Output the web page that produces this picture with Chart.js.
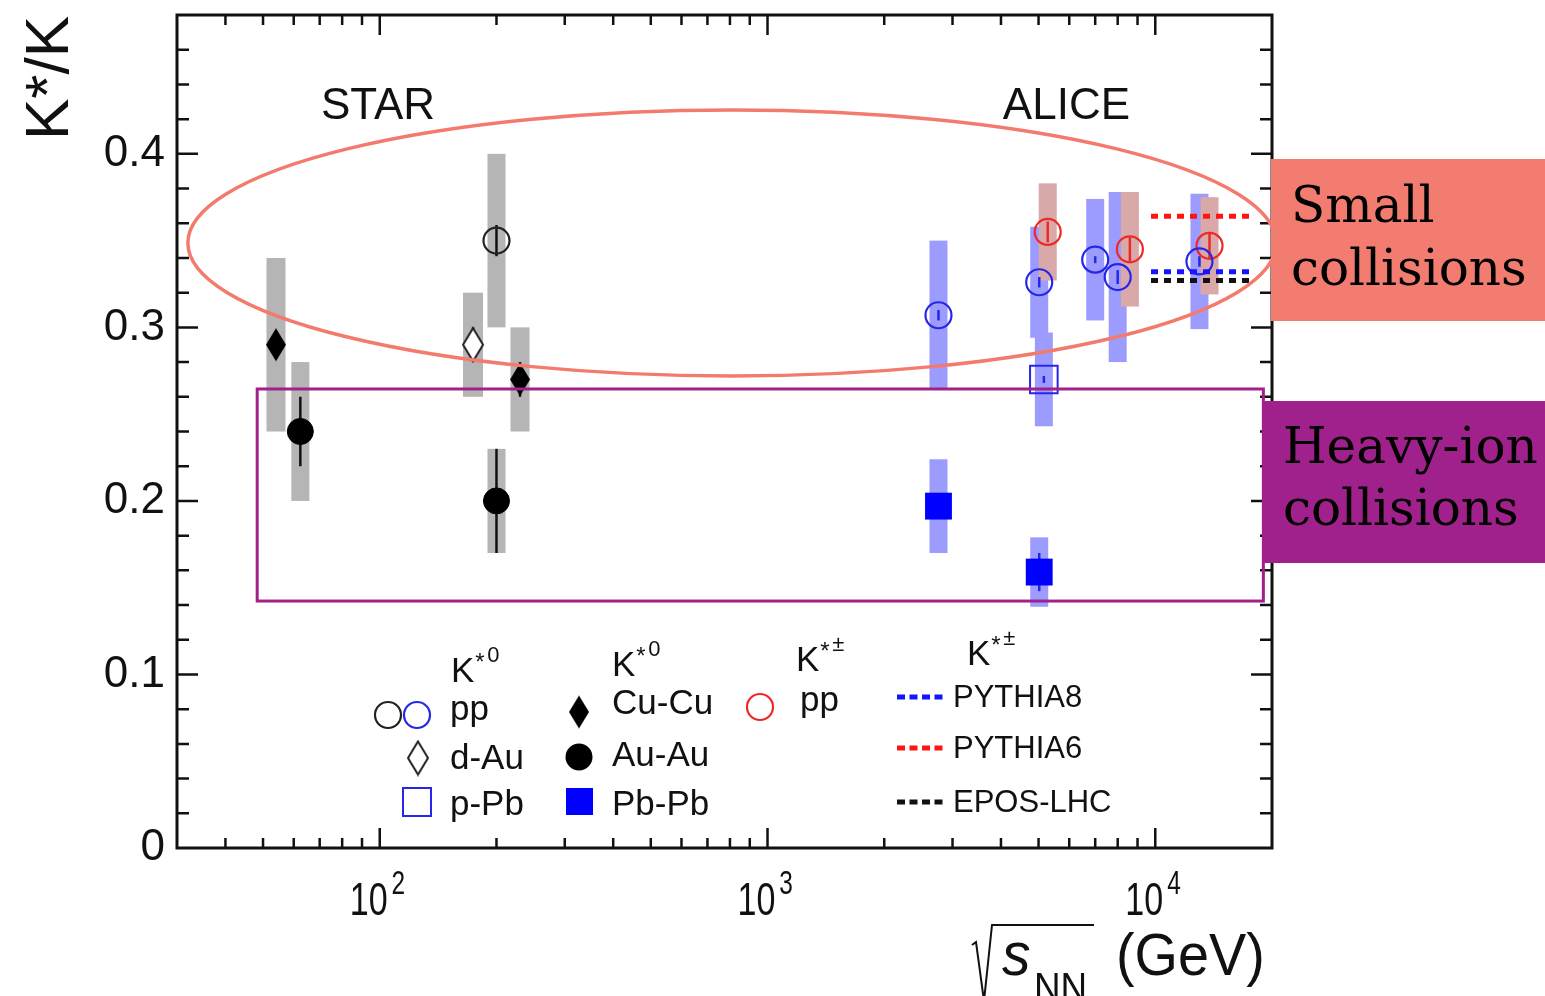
<!DOCTYPE html>
<html lang="en">
<head>
<meta charset="utf-8">
<title>K*/K vs collision energy</title>
<script src="https://cdn.jsdelivr.net/npm/chart.js@4.4.1/dist/chart.umd.min.js"></script>
<style>
  html, body { margin: 0; padding: 0; background: #ffffff; }
  canvas { display: block; }
</style>
</head>
<body>
<canvas id="ratioChart" width="1545" height="996"></canvas>
<script>
// Helper: Get element by ID
const getEl = (id) => document.getElementById(id);

// Rows are [sqrt(s_NN) in GeV, K*/K, stat. error, syst. error]
// (a few energies are nudged so that points at the same energy stay readable)
const starPP    = [[200, 0.350, 0.009, 0.050]];
const starDAu   = [[174, 0.290, 0.010, 0.030]];
const starCuCu  = [[54, 0.290, 0.008, 0.050], [230, 0.270, 0.010, 0.030]];
const starAuAu  = [[62.4, 0.240, 0.020, 0.040], [200, 0.200, 0.030, 0.030]];
const alicePP   = [[2760, 0.307, 0.003, 0.043], [5020, 0.326, 0.003, 0.032], [7000, 0.339, 0.002, 0.035], [8000, 0.329, 0.004, 0.049], [13000, 0.338, 0.003, 0.039]];
const alicePPb  = [[5160, 0.270, 0.002, 0.027]];
const alicePbPb = [[2760, 0.197, 0.005, 0.027], [5020, 0.159, 0.011, 0.020]];
const chargedPP = [[5280, 0.355, 0.006, 0.028], [8600, 0.345, 0.007, 0.033], [13800, 0.347, 0.008, 0.028]];

// pp 13 TeV model values, drawn as short dotted lines
const modelSpan   = [9750, 17600];
const modelNames  = ['PYTHIA8', 'PYTHIA6', 'EPOS-LHC'];
const modelValues = [0.332, 0.364, 0.327];
const modelColors = ['#1414ff', '#ff1414', '#111111'];

// axis ticks
const yTicks     = [0, 0.1, 0.2, 0.3, 0.4];
const xDecades   = [100, 1000, 10000];
const xExponents = ['2', '3', '4'];

// experiment labels and their energies, all at one ratio height
const expNames    = ['STAR', 'ALICE'];
const expEnergies = [99, 5900];
const expRatio    = 0.42;

// highlighted regions (energy range, ratio range)
const smallEnergy = [32, 20500];
const smallRatio  = [0.272, 0.4253];
const heavyEnergy = [48.3, 19000];
const heavyRatio  = [0.1423, 0.2645];

const SANS  = '"Liberation Sans", Arial, sans-serif';
const SERIF = '"DejaVu Serif", serif';

const greyBox = '#b5b5b5';
const blueBox = '#9c9cff';
const redBox  = '#d9a8a8';
const blue    = '#2626ea';
const red     = '#ee2828';

// diamonds are taller than wide, so build them as small images
function diamondImage(w, h, filled) {
    const c = document.createElement('canvas');
    c.width = w + 4;
    c.height = h + 4;
    const g = c.getContext('2d');
    g.beginPath();
    g.moveTo(c.width / 2, 2);
    g.lineTo(c.width - 2, c.height / 2);
    g.lineTo(c.width / 2, c.height - 2);
    g.lineTo(2, c.height / 2);
    g.closePath();
    if (filled) {
        g.fillStyle = '#000';
        g.fill();
    } else {
        g.fillStyle = '#fff';
        g.fill();
        g.strokeStyle = '#222';
        g.lineWidth = 2;
        g.stroke();
    }
    return c;
}
const fullDiamond = diamondImage(20, 33, true);
const openDiamond = diamondImage(20, 33, false);

// systematic boxes + statistical bars
const boxSets = [
    { rows: starCuCu,  fill: greyBox, line: '#111', width: 19 },
    { rows: starAuAu,  fill: greyBox, line: '#111', width: 18 },
    { rows: starDAu,   fill: greyBox, line: '#111', width: 20 },
    { rows: starPP,    fill: greyBox, line: '#111', width: 18 },
    { rows: alicePP,   fill: blueBox, line: blue,   width: 18 },
    { rows: alicePPb,  fill: blueBox, line: blue,   width: 18 },
    { rows: alicePbPb, fill: blueBox, line: blue,   width: 18 },
    { rows: chargedPP, fill: redBox,  line: red,    width: 18 }
];

const markerSets = [
    { rows: starPP,    style: 'circle',    radius: 13,   fill: 'rgba(0,0,0,0)', edge: '#222', width: 2.2 },
    { rows: starDAu,   style: openDiamond, radius: 12,   fill: 'rgba(0,0,0,0)', edge: '#222', width: 0 },
    { rows: starCuCu,  style: fullDiamond, radius: 12,   fill: '#000', edge: '#000', width: 0 },
    { rows: starAuAu,  style: 'circle',    radius: 13,   fill: '#000', edge: '#000', width: 1 },
    { rows: alicePP,   style: 'circle',    radius: 13,   fill: 'rgba(0,0,0,0)', edge: blue, width: 2.2 },
    { rows: alicePPb,  style: 'rect',      radius: 19.5, fill: 'rgba(0,0,0,0)', edge: blue, width: 2 },
    { rows: alicePbPb, style: 'rect',      radius: 19,   fill: '#0000ff', edge: '#0000ff', width: 0 },
    { rows: chargedPP, style: 'circle',    radius: 13,   fill: 'rgba(0,0,0,0)', edge: red, width: 2.2 }
];

const datasets = [];
modelValues.forEach((v, i) => {
    datasets.push({
        label: modelNames[i],
        data: modelSpan.map(e => ({ x: e, y: v })),
        showLine: true,
        borderColor: modelColors[i],
        borderWidth: 5,
        borderDash: [7, 6],
        borderCapStyle: 'butt',
        pointRadius: 0,
        order: 0
    });
});
markerSets.forEach(s => {
    datasets.push({
        data: s.rows.map(r => ({ x: r[0], y: r[1] })),
        pointStyle: s.style,
        pointRadius: s.radius,
        pointBackgroundColor: s.fill,
        pointBorderColor: s.edge,
        pointBorderWidth: s.width,
        showLine: false,
        order: 1
    });
});

/**
 * Boxes and error bars sit under the markers
 */
const errorPlugin = {
    id: 'errorBoxes',
    beforeDatasetsDraw(chart) {
        const { ctx, scales: { x, y } } = chart;
        ctx.save();
        boxSets.forEach(set => {
            ctx.fillStyle = set.fill;
            set.rows.forEach(([e, r, stat, sys]) => {
                const px = x.getPixelForValue(e);
                const top = y.getPixelForValue(r + sys);
                const bot = y.getPixelForValue(r - sys);
                ctx.fillRect(px - set.width / 2, top, set.width, bot - top);
            });
        });
        ctx.lineWidth = 2.5;
        boxSets.forEach(set => {
            ctx.strokeStyle = set.line;
            set.rows.forEach(([e, r, stat]) => {
                const px = x.getPixelForValue(e);
                ctx.beginPath();
                ctx.moveTo(px, y.getPixelForValue(r + stat));
                ctx.lineTo(px, y.getPixelForValue(r - stat));
                ctx.stroke();
            });
        });
        ctx.restore();
    }
};

// text squeezed or stretched horizontally, returns drawn width
function scaledText(ctx, text, x, y, sx) {
    ctx.save();
    ctx.translate(x, y);
    ctx.scale(sx, 1);
    ctx.fillText(text, 0, 0);
    ctx.restore();
    return ctx.measureText(text).width * sx;
}

function drawFrame(chart) {
    const { ctx, chartArea: a, scales: { x, y } } = chart;
    ctx.save();
    ctx.strokeStyle = '#111';
    ctx.lineWidth = 2.5;
    ctx.beginPath();
    // y ticks every 0.02, long ones every 0.1, on both sides
    for (let i = 1; i < 24; i++) {
        const py = y.getPixelForValue(i * 0.02);
        const len = i % 5 === 0 ? 21 : 12;
        ctx.moveTo(a.left, py); ctx.lineTo(a.left + len, py);
        ctx.moveTo(a.right, py); ctx.lineTo(a.right - len, py);
    }
    // x ticks at 1..9 of every decade, bottom and top
    for (let dec = 10; dec <= 10000; dec *= 10) {
        for (let m = 1; m <= 9; m++) {
            const v = dec * m;
            if (v <= x.min || v >= x.max) continue;
            const px = x.getPixelForValue(v);
            const len = m === 1 ? 20 : 10;
            ctx.moveTo(px, a.bottom); ctx.lineTo(px, a.bottom - len);
            ctx.moveTo(px, a.top); ctx.lineTo(px, a.top + len);
        }
    }
    ctx.stroke();
    ctx.lineWidth = 3;
    ctx.strokeRect(a.left, a.top, a.right - a.left, a.bottom - a.top);
    ctx.restore();
}

function drawRegions(chart) {
    const { ctx, scales: { x, y } } = chart;
    ctx.save();
    // small-system ellipse
    const x0 = x.getPixelForValue(smallEnergy[0]);
    const x1 = x.getPixelForValue(smallEnergy[1]);
    const y0 = y.getPixelForValue(smallRatio[1]);
    const y1 = y.getPixelForValue(smallRatio[0]);
    ctx.strokeStyle = '#f37b6e';
    ctx.lineWidth = 3.5;
    ctx.beginPath();
    ctx.ellipse((x0 + x1) / 2, (y0 + y1) / 2, (x1 - x0) / 2, (y1 - y0) / 2, 0, 0, Math.PI * 2);
    ctx.stroke();
    // heavy-ion rectangle
    const hx0 = x.getPixelForValue(heavyEnergy[0]);
    const hx1 = x.getPixelForValue(heavyEnergy[1]);
    const hy0 = y.getPixelForValue(heavyRatio[1]);
    const hy1 = y.getPixelForValue(heavyRatio[0]);
    ctx.strokeStyle = '#a0218b';
    ctx.lineWidth = 3;
    ctx.strokeRect(hx0, hy0, hx1 - hx0, hy1 - hy0);
    ctx.restore();
}

function drawAxisText(chart) {
    const { ctx, chartArea: a, scales: { x, y } } = chart;
    ctx.save();
    ctx.fillStyle = '#111';
    ctx.textBaseline = 'alphabetic';

    // decade labels, narrow as in ROOT output
    xDecades.forEach((v, i) => {
        const px = x.getPixelForValue(v);
        ctx.font = '46px ' + SANS;
        const w = scaledText(ctx, '10', px - 30, a.bottom + 67, 0.74);
        ctx.font = '33px ' + SANS;
        scaledText(ctx, xExponents[i], px - 30 + w + 4, a.bottom + 46, 0.74);
    });

    // y title, reading upwards
    ctx.save();
    ctx.translate(68, 140);
    ctx.rotate(-Math.PI / 2);
    ctx.font = '62px ' + SANS;
    ctx.fillText('K*/K', 0, 0);
    ctx.restore();

    // x title: sqrt(s_NN) (GeV)
    const base = a.bottom + 127;
    ctx.strokeStyle = '#111';
    ctx.lineWidth = 2;
    ctx.beginPath();
    ctx.moveTo(972, base - 30);
    ctx.lineTo(976, base - 33);
    ctx.lineTo(984, base + 26);
    ctx.lineTo(992, base - 50);
    ctx.lineTo(1094, base - 50);
    ctx.stroke();
    ctx.font = 'italic 62px ' + SANS;
    scaledText(ctx, 's', 1002, base, 0.92);
    ctx.font = '40px ' + SANS;
    scaledText(ctx, 'NN', 1034, base + 26, 0.92);
    ctx.font = '60px ' + SANS;
    scaledText(ctx, '(GeV)', 1116, base, 0.93);

    // experiment names
    ctx.font = '44px ' + SANS;
    ctx.textAlign = 'center';
    expNames.forEach((name, i) => {
        ctx.fillText(name, x.getPixelForValue(expEnergies[i]), y.getPixelForValue(expRatio));
    });
    ctx.restore();
}

function kHeader(ctx, x, base, sup) {
    ctx.font = '35px ' + SANS;
    ctx.fillText('K', x, base);
    const w = ctx.measureText('K').width;
    ctx.font = '24px ' + SANS;
    ctx.fillText('*', x + w + 1, base - 12);
    ctx.font = '22px ' + SANS;
    ctx.fillText(sup, x + w + 13, base - 20);
}

function openCircle(ctx, cx, cy, color) {
    ctx.strokeStyle = color;
    ctx.lineWidth = 2.2;
    ctx.beginPath();
    ctx.arc(cx, cy, 13, 0, Math.PI * 2);
    ctx.stroke();
}

function drawLegend(chart) {
    const { ctx } = chart;
    ctx.save();
    ctx.fillStyle = '#111';
    ctx.textAlign = 'left';
    ctx.textBaseline = 'alphabetic';

    kHeader(ctx, 451, 682, '0');
    kHeader(ctx, 612, 676, '0');
    kHeader(ctx, 796, 671, '\u00b1');
    kHeader(ctx, 967, 665, '\u00b1');

    // K*0 small systems
    openCircle(ctx, 388, 715, '#222');
    openCircle(ctx, 417, 715, blue);
    ctx.drawImage(openDiamond, 418 - openDiamond.width / 2, 758 - openDiamond.height / 2);
    ctx.strokeStyle = blue;
    ctx.lineWidth = 2;
    ctx.strokeRect(403, 788, 28, 28);

    // K*0 heavy ions
    ctx.drawImage(fullDiamond, 579 - fullDiamond.width / 2, 712 - fullDiamond.height / 2);
    ctx.fillStyle = '#000';
    ctx.beginPath();
    ctx.arc(579, 757, 13.5, 0, Math.PI * 2);
    ctx.fill();
    ctx.fillStyle = '#0000ff';
    ctx.fillRect(566, 788, 27, 27);

    // K*+- pp
    openCircle(ctx, 760, 707, red);

    ctx.fillStyle = '#111';
    ctx.font = '35px ' + SANS;
    ctx.fillText('pp', 450, 720);
    ctx.fillText('d-Au', 450, 769);
    ctx.fillText('p-Pb', 450, 815);
    ctx.fillText('Cu-Cu', 612, 714);
    ctx.fillText('Au-Au', 612, 766);
    ctx.fillText('Pb-Pb', 612, 815);
    ctx.fillText('pp', 800, 711);

    // model lines
    const rows = [697, 748, 802];
    ctx.lineWidth = 5;
    ctx.setLineDash([8, 4.5]);
    ctx.font = '31px ' + SANS;
    modelNames.forEach((name, i) => {
        ctx.strokeStyle = modelColors[i];
        ctx.beginPath();
        ctx.moveTo(897, rows[i]);
        ctx.lineTo(943, rows[i]);
        ctx.stroke();
        ctx.fillStyle = '#111';
        ctx.fillText(name, 953, rows[i] + 10);
    });
    ctx.restore();
}

function drawTags(chart) {
    const { ctx } = chart;
    ctx.save();
    ctx.fillStyle = '#f27c70';
    ctx.fillRect(1271, 159, 274, 162);
    ctx.fillStyle = '#a0218b';
    ctx.fillRect(1262, 401, 283, 162);
    ctx.fillStyle = '#000';
    ctx.font = '50px ' + SERIF;
    ctx.textAlign = 'left';
    ctx.fillText('Small', 1291, 222);
    ctx.fillText('collisions', 1291, 285);
    ctx.fillText('Heavy-ion', 1283, 463);
    ctx.fillText('collisions', 1283, 525);
    ctx.restore();
}

const overlayPlugin = {
    id: 'overlay',
    afterDraw(chart) {
        drawFrame(chart);
        drawRegions(chart);
        drawAxisText(chart);
        drawLegend(chart);
        drawTags(chart);
    }
};

new Chart(getEl('ratioChart'), {
    type: 'scatter',
    data: { datasets },
    options: {
        responsive: false,
        animation: false,
        events: [],
        layout: { autoPadding: false, padding: { left: 0, top: 15, right: 273, bottom: 0 } },
        plugins: {
            legend: { display: false },
            tooltip: { enabled: false }
        },
        scales: {
            x: {
                type: 'logarithmic',
                min: 30,
                max: 20000,
                grid: { display: false },
                border: { display: false },
                ticks: { display: false },
                afterBuildTicks: (scale) => { scale.ticks = xDecades.map(v => ({ value: v })); },
                afterFit: (scale) => {
                    scale.height = 148;
                    scale.paddingLeft = 0;
                    scale.paddingRight = 0;
                }
            },
            y: {
                min: 0,
                max: 0.48,
                grid: { display: false, drawTicks: false },
                border: { display: false },
                afterBuildTicks: (scale) => { scale.ticks = yTicks.map(v => ({ value: v })); },
                ticks: {
                    padding: 12,
                    color: '#111',
                    font: { family: SANS, size: 44 },
                    callback: (v) => v === 0 ? '0' : v.toFixed(1)
                },
                afterFit: (scale) => {
                    scale.width = 177;
                    scale.paddingTop = 0;
                    scale.paddingBottom = 0;
                }
            }
        }
    },
    plugins: [errorPlugin, overlayPlugin]
});
</script>
</body>
</html>
